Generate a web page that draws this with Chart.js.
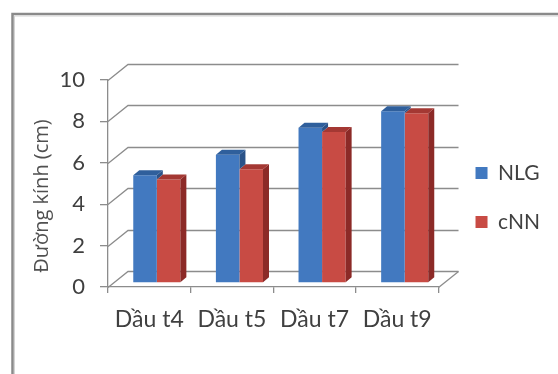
<!DOCTYPE html>
<html>
<head>
<meta charset="utf-8">
<script src="https://cdn.jsdelivr.net/npm/chart.js@4/dist/chart.umd.min.js"></script>
<style>
  html, body { margin: 0; padding: 0; background: #fff; }
  #chart { display: block; }
</style>
</head>
<body>
<canvas id="chart" width="558" height="374"></canvas>
<script>
const categories = ['Dầu t4', 'Dầu t5', 'Dầu t7', 'Dầu t9'];
const nlgValues = [5.2, 6.2, 7.5, 8.3];
const cnnValues = [5.0, 5.5, 7.3, 8.2];
const yTickValues = [0, 2, 4, 6, 8, 10];
const yTitle = 'Đường kính (cm)';

const FONT = 'Lato';
const TEXT = '#404040';
const LINE = '#8c8c8c';

// depth of the back wall, and where the bars sit inside that depth
const WALL_DX = 20, WALL_DY = -16;
const BAR_SHIFT_X = 7.5, BAR_SHIFT_Y = -4;
const BAR_DX = 6, BAR_DY = -5;

const frame3d = {
  id: 'frame3d',
  beforeDraw(chart) {
    const ctx = chart.ctx;
    ctx.save();
    // outer frame (only top and left edges are inside the canvas)
    ctx.strokeStyle = '#8a8a8a';
    ctx.lineWidth = 2.5;
    ctx.beginPath();
    ctx.moveTo(12.5, 374);
    ctx.lineTo(12.5, 14);
    ctx.lineTo(558, 14);
    ctx.stroke();
    ctx.strokeStyle = '#d4d4d4';
    ctx.lineWidth = 1;
    ctx.beginPath();
    ctx.moveTo(14.5, 374);
    ctx.lineTo(14.5, 16);
    ctx.lineTo(558, 16);
    ctx.stroke();
    ctx.restore();
  },
  afterLayout(chart) {
    // legend sits right of the wall and a bit above centre
    const lg = chart.legend;
    lg.left += 9;
    lg.right += 9;
    lg.top -= 29.5;
    lg.bottom -= 29.5;
  },
  beforeDatasetsDraw(chart) {
    const {ctx, chartArea: a, scales: {y}} = chart;
    ctx.save();
    ctx.strokeStyle = LINE;
    ctx.lineWidth = 1.3;
    yTickValues.forEach(v => {
      const py = Math.round(y.getPixelForValue(v)) + 0.5;
      ctx.beginPath();
      ctx.moveTo(a.left, py);
      ctx.lineTo(a.left + WALL_DX, py + WALL_DY);
      ctx.lineTo(a.right + WALL_DX, py + WALL_DY);
      ctx.stroke();
    });
    const y0 = Math.round(y.getPixelForValue(0)) + 0.5;
    ctx.beginPath();
    ctx.moveTo(a.right, y0);
    ctx.lineTo(a.right + WALL_DX, y0 + WALL_DY);
    ctx.stroke();
    ctx.restore();
    // bars stand part way into the floor
    ctx.save();
    ctx.translate(BAR_SHIFT_X, BAR_SHIFT_Y);
  },
  afterDatasetDraw(chart, args) {
    // top and side faces; the neighbour on the right hides part of them
    const ctx = chart.ctx;
    const i = args.index;
    const ds = chart.data.datasets[i];
    const hasNext = i < chart.data.datasets.length - 1;
    const nextBars = hasNext ? chart.getDatasetMeta(i + 1).data : null;
    args.meta.data.forEach((bar, j) => {
      const {x, y, base, width} = bar.getProps(['x', 'y', 'base', 'width'], true);
      const l = x - width / 2, r = x + width / 2;
      const nextY = nextBars ? nextBars[j].getProps(['y'], true).y : base;
      const sideBottom = Math.min(base, nextY);
      if (sideBottom > y) {
        ctx.fillStyle = ds.sideColor;
        ctx.beginPath();
        ctx.moveTo(r, y);
        ctx.lineTo(r + BAR_DX, y + BAR_DY);
        ctx.lineTo(r + BAR_DX, sideBottom + BAR_DY);
        ctx.lineTo(r, sideBottom);
        ctx.closePath();
        ctx.fill();
      }
      const capRight = nextY < y ? r - BAR_DX : r;
      ctx.fillStyle = ds.topColor;
      ctx.beginPath();
      ctx.moveTo(l, y);
      ctx.lineTo(l + BAR_DX, y + BAR_DY);
      ctx.lineTo(capRight + BAR_DX, y + BAR_DY);
      ctx.lineTo(Math.min(r, capRight + BAR_DX), y);
      ctx.closePath();
      ctx.fill();
    });
  },
  afterDatasetsDraw(chart) {
    chart.ctx.restore();
  },
  afterDraw(chart) {
    const ctx = chart.ctx;
    ctx.save();
    ctx.translate(42, 196);
    ctx.rotate(-Math.PI / 2);
    ctx.fillStyle = '#505050';
    ctx.font = '20px "Open Sans"';
    ctx.textAlign = 'center';
    ctx.textBaseline = 'middle';
    ctx.fillText(yTitle, 0, 0);
    ctx.restore();
  }
};

new Chart(document.getElementById('chart'), {
  type: 'bar',
  data: {
    labels: categories,
    datasets: [
      {
        label: 'NLG',
        data: nlgValues,
        backgroundColor: '#4279c0',
        topColor: '#2f5f9c',
        sideColor: '#2a5288',
        borderWidth: 0
      },
      {
        label: 'cNN',
        data: cnnValues,
        backgroundColor: '#c84b44',
        topColor: '#a43833',
        sideColor: '#8c2a27',
        borderWidth: 0
      }
    ]
  },
  options: {
    responsive: false,
    animation: false,
    devicePixelRatio: 1,
    layout: { padding: { top: 80, bottom: 0, left: 0, right: 17 } },
    datasets: {
      bar: { categoryPercentage: 0.57, barPercentage: 1, clip: false }
    },
    scales: {
      x: {
        offset: true,
        grid: { offset: true, drawOnChartArea: false, tickLength: 6, color: LINE, lineWidth: 1.3 },
        border: { color: LINE, width: 1.3 },
        ticks: { color: TEXT, font: { family: FONT, size: 23 }, padding: 13, maxRotation: 0 },
        afterFit(scale) { scale.height = 87; }
      },
      y: {
        min: 0,
        max: 10,
        grid: { drawOnChartArea: false, tickLength: 8, color: LINE, lineWidth: 1.3 },
        border: { color: LINE, width: 1.3 },
        ticks: { stepSize: 2, color: TEXT, font: { family: FONT, size: 22 }, padding: 15 },
        afterFit(scale) { scale.width = 108; }
      }
    },
    plugins: {
      legend: {
        position: 'right',
        labels: {
          boxWidth: 12,
          boxHeight: 12,
          padding: 28,
          color: TEXT,
          font: { family: FONT, size: 21 }
        }
      },
      tooltip: { enabled: false }
    }
  },
  plugins: [frame3d]
});
</script>
</body>
</html>
